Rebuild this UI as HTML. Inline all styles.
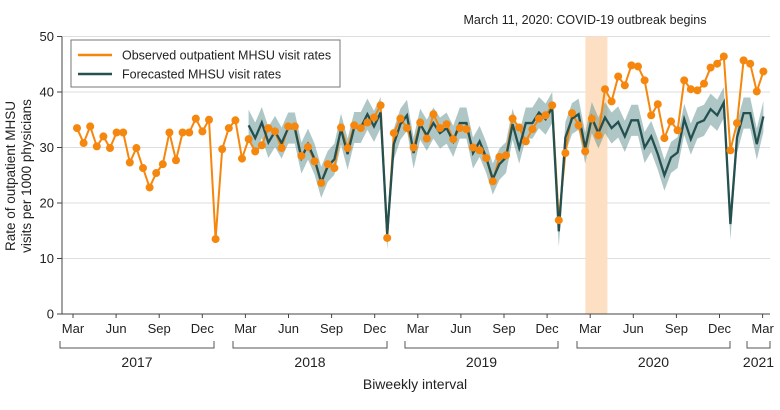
<!DOCTYPE html>
<html><head><meta charset="utf-8"><style>
body{margin:0;background:#fff;font-family:"Liberation Sans",sans-serif;}
svg text{font-family:"Liberation Sans",sans-serif;fill:#222;}
</style></head><body>
<svg id="chart" width="780" height="405" xmlns="http://www.w3.org/2000/svg"></svg>
<script>
const observed=[33.5,30.8,33.8,30.2,32.0,29.9,32.7,32.7,27.3,29.9,26.3,22.8,25.4,27.0,32.7,27.7,32.7,32.7,35.2,32.9,35.0,13.5,29.7,33.5,34.9,28.0,31.5,29.3,30.4,33.5,32.9,29.9,33.8,33.8,28.5,30.1,27.5,23.6,27.0,26.3,33.6,29.9,34.0,33.5,34.5,35.4,37.6,13.7,32.6,35.2,33.5,30.0,34.5,31.6,36.0,33.5,34.2,31.5,33.5,33.3,30.0,29.5,28.1,23.9,28.3,28.6,35.2,33.6,31.1,33.3,35.2,35.8,37.6,16.9,29.0,36.2,34.0,29.3,35.2,32.2,40.5,38.3,42.8,41.2,44.8,44.6,42.1,35.8,37.8,31.7,34.7,33.1,42.1,40.5,40.3,41.5,44.4,45.1,46.4,29.5,34.4,45.7,45.1,40.1,43.7];
const forecastStart=26;
const forecast=[34.0,31.7,34.5,30.9,32.9,30.8,33.5,33.5,28.1,30.6,27.9,23.7,26.6,27.9,33.3,28.8,33.6,33.6,36.0,33.8,36.3,14.4,30.6,34.2,35.8,29.0,34.2,32.2,34.4,32.6,33.5,31.1,34.4,34.4,29.0,31.1,28.2,24.3,27.0,28.2,34.2,29.9,34.4,34.4,36.3,35.1,37.2,14.9,31.8,35.2,36.0,29.9,35.4,32.6,35.4,33.5,34.6,32.0,34.9,34.9,30.0,32.0,28.8,25.0,28.2,29.1,35.1,31.5,34.4,34.9,36.9,35.8,38.1,16.2,31.8,36.2,36.2,30.6,35.6];
const ciHalf=[2.8];
const yTicks=[0,10,20,30,40,50];
const monthLabels=["Mar","Jun","Sep","Dec","Mar","Jun","Sep","Dec","Mar","Jun","Sep","Dec","Mar","Jun","Sep","Dec","Mar"];
const years=["2017","2018","2019","2020","2021"];
const covidIndex=[78.7];

const svg=document.getElementById('chart');
const NS='http://www.w3.org/2000/svg';
function el(t,a,p){const e=document.createElementNS(NS,t);for(const k in a)e.setAttribute(k,a[k]);(p||svg).appendChild(e);return e;}
const X0=62,X1=770,Y0=314,Y1=36.5;
const x=i=>77+i*6.6;
const y=v=>Y0-(v/50)*(Y0-Y1);
const mx=m=>73+m*43.1;

yTicks.forEach(t=>{
  if(t>0){const g=el('line',{x1:X0,x2:X1,y1:y(t),y2:y(t),stroke:'#dedede','stroke-width':1});
  
  }
  const tk=el('line',{x1:X0-5,x2:X0,y1:y(t),y2:y(t),stroke:'#444'});
  
  
  const tx=el('text',{x:X0-8,y:y(t)+4.5,'text-anchor':'end','font-size':13});tx.textContent=t;
  
  
});
const cb=el('rect',{x:x(covidIndex[0])-11,y:Y1,width:22,height:Y0-Y1,fill:'#fde0c4'});


const ca=el('text',{x:585,y:24,'text-anchor':'middle','font-size':12.5});ca.textContent='March 11, 2020: COVID-19 outbreak begins';



let up='',lo='';
forecast.forEach((v,k)=>{const i=k+forecastStart;up+=(k?'L':'M')+x(i)+','+y(v+ciHalf[0]);});
for(let k=forecast.length-1;k>=0;k--){lo+='L'+x(k+forecastStart)+','+y(Math.max(0,forecast[k]-ciHalf[0]));}
const band=el('path',{d:up+lo+'Z',fill:'#5e8f8d','fill-opacity':0.5});



const op=el('polyline',{points:observed.map((v,i)=>x(i)+','+y(v)).join(' '),fill:'none',stroke:'#f5870e','stroke-width':2});


const fp=el('polyline',{points:forecast.map((v,k)=>x(k+forecastStart)+','+y(v)).join(' '),fill:'none',stroke:'#24504f','stroke-width':2.3});


observed.forEach((v,i)=>{
  const c=el('circle',{cx:x(i),cy:y(v),r:4,fill:'#f5870e'});
  
  
});

const ya=el('line',{x1:X0,x2:X0,y1:Y1,y2:Y0,stroke:'#444'});


const xa=el('line',{x1:X0,x2:X1,y1:Y0,y2:Y0,stroke:'#444'});


monthLabels.forEach((m,k)=>{
  const t=el('line',{x1:mx(k),x2:mx(k),y1:Y0,y2:Y0+4,stroke:'#444'});
  
  
  const tx=el('text',{x:mx(k),y:333,'text-anchor':'middle','font-size':13});tx.textContent=m;
  
  
});
const yb=[[60,214],[233,387],[405,558],[577,730],[747,770]];
years.forEach((yr,k)=>{
  const [a,b]=yb[k];
  const br=el('path',{d:`M${a},341V348H${b}V341`,fill:'none',stroke:'#555'});
  
  
  const tx=el('text',{x:(a+b)/2,y:367,'text-anchor':'middle','font-size':14});tx.textContent=yr;
  
  
});
const xt=el('text',{x:415,y:389,'text-anchor':'middle','font-size':14});xt.textContent='Biweekly interval';


const yt=el('text',{transform:'translate(15,176) rotate(-90)','text-anchor':'middle','font-size':13.5});


const t1=el('tspan',{x:0,y:0},yt);t1.textContent='Rate of outpatient MHSU';
const t2=el('tspan',{x:0,y:16},yt);t2.textContent='visits per 1000 physicians';

const lg=el('g',{});


el('rect',{x:71,y:40,width:269,height:47,fill:'#fff',stroke:'#777'},lg);
const l1=el('line',{x1:78,x2:112,y1:55,y2:55,stroke:'#f5870e','stroke-width':2.5},lg);


const lt1=el('text',{x:122,y:59.5,'font-size':12.5},lg);lt1.textContent='Observed outpatient MHSU visit rates';


const l2=el('line',{x1:78,x2:112,y1:74,y2:74,stroke:'#24504f','stroke-width':2.5},lg);


const lt2=el('text',{x:122,y:78.5,'font-size':12.5},lg);lt2.textContent='Forecasted MHSU visit rates';


</script>
</body></html>
